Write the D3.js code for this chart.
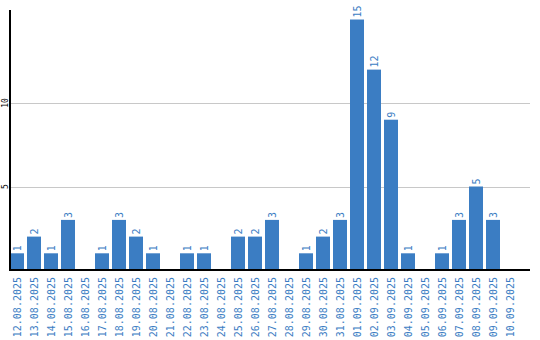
<!DOCTYPE html>
<html>
<head>
<meta charset="utf-8">
<script src="https://cdn.jsdelivr.net/npm/d3@7"></script>
<style>
  body { margin: 0; background: #fff; }
  svg { display: block; }
</style>
</head>
<body>
<svg width="540" height="340"></svg>
<script>
const dates = ["12.08.2025","13.08.2025","14.08.2025","15.08.2025","16.08.2025","17.08.2025",
  "18.08.2025","19.08.2025","20.08.2025","21.08.2025","22.08.2025","23.08.2025","24.08.2025",
  "25.08.2025","26.08.2025","27.08.2025","28.08.2025","29.08.2025","30.08.2025","31.08.2025",
  "01.09.2025","02.09.2025","03.09.2025","04.09.2025","05.09.2025","06.09.2025","07.09.2025",
  "08.09.2025","09.09.2025","10.09.2025"]
const counts = [1,2,1,3,0,1,3,2,1,0,1,1,0,2,2,3,0,1,2,3,15,12,9,1,0,1,3,5,3,0]
const yTicks = [5, 10]

const svg = d3.select("svg")
const plotLeft = 10, plotTop = 10, plotBottom = 270, plotRight = 530
const blue = "#3b7dc3"

// step 17px, bar 14px
const x = d3.scaleBand().domain(dates).range([plotLeft, plotLeft + 17 * (dates.length - 3 / 17)])
  .paddingInner(3 / 17).paddingOuter(0)
const y = d3.scaleLinear().domain([0, 15.57]).range([plotBottom, plotTop])

const barData = dates.map((d, i) => ({ date: d, v: counts[i] })).filter(d => d.v > 0)

// grid
svg.append("g").selectAll("line")
  .data(yTicks).enter().append("line")
  .attr("x1", plotLeft).attr("x2", plotRight)
  .attr("y1", d => Math.round(y(d)) + 0.5).attr("y2", d => Math.round(y(d)) + 0.5)
  .attr("stroke", "#c8c8c8").attr("stroke-width", 1)

// bars
svg.append("g").selectAll("rect")
  .data(barData)
  .enter().append("rect")
  .attr("x", d => x(d.date))
  .attr("width", x.bandwidth())
  .attr("y", d => y(d.v))
  .attr("height", d => plotBottom - y(d.v))
  .attr("fill", blue)

// value labels
svg.append("g").selectAll("text")
  .data(barData)
  .enter().append("text")
  .attr("transform", d => `translate(${x(d.date) + x.bandwidth() / 2},${y(d.v) - 2}) rotate(-90)`)
  .attr("dy", "0.35em")
  .attr("font-family", "DejaVu Sans Mono")
  .attr("font-size", 10)
  .attr("fill", blue)
  .text(d => d.v)

// axes lines
svg.append("line").attr("x1", plotLeft).attr("x2", plotLeft).attr("y1", plotTop).attr("y2", plotBottom + 1)
  .attr("stroke", "#000").attr("stroke-width", 2)
svg.append("line").attr("x1", plotLeft).attr("x2", plotRight).attr("y1", plotBottom).attr("y2", plotBottom)
  .attr("stroke", "#000").attr("stroke-width", 2)

// y tick labels
svg.append("g").selectAll("text")
  .data(yTicks).enter().append("text")
  .attr("transform", d => `translate(5,${y(d)}) rotate(-90)`)
  .attr("text-anchor", "middle")
  .attr("dy", "0.35em")
  .attr("font-family", "DejaVu Sans Mono")
  .attr("font-size", 8)
  .attr("fill", "#000")
  .text(d => d)

// date labels
svg.append("g").selectAll("text")
  .data(dates).enter().append("text")
  .attr("transform", d => `translate(${x(d) + x.bandwidth() / 2},277) rotate(-90)`)
  .attr("text-anchor", "end")
  .attr("dy", "0.35em")
  .attr("font-family", "DejaVu Sans Mono")
  .attr("font-size", 10)
  .attr("fill", blue)
  .text(d => d)
</script>
</body>
</html>
